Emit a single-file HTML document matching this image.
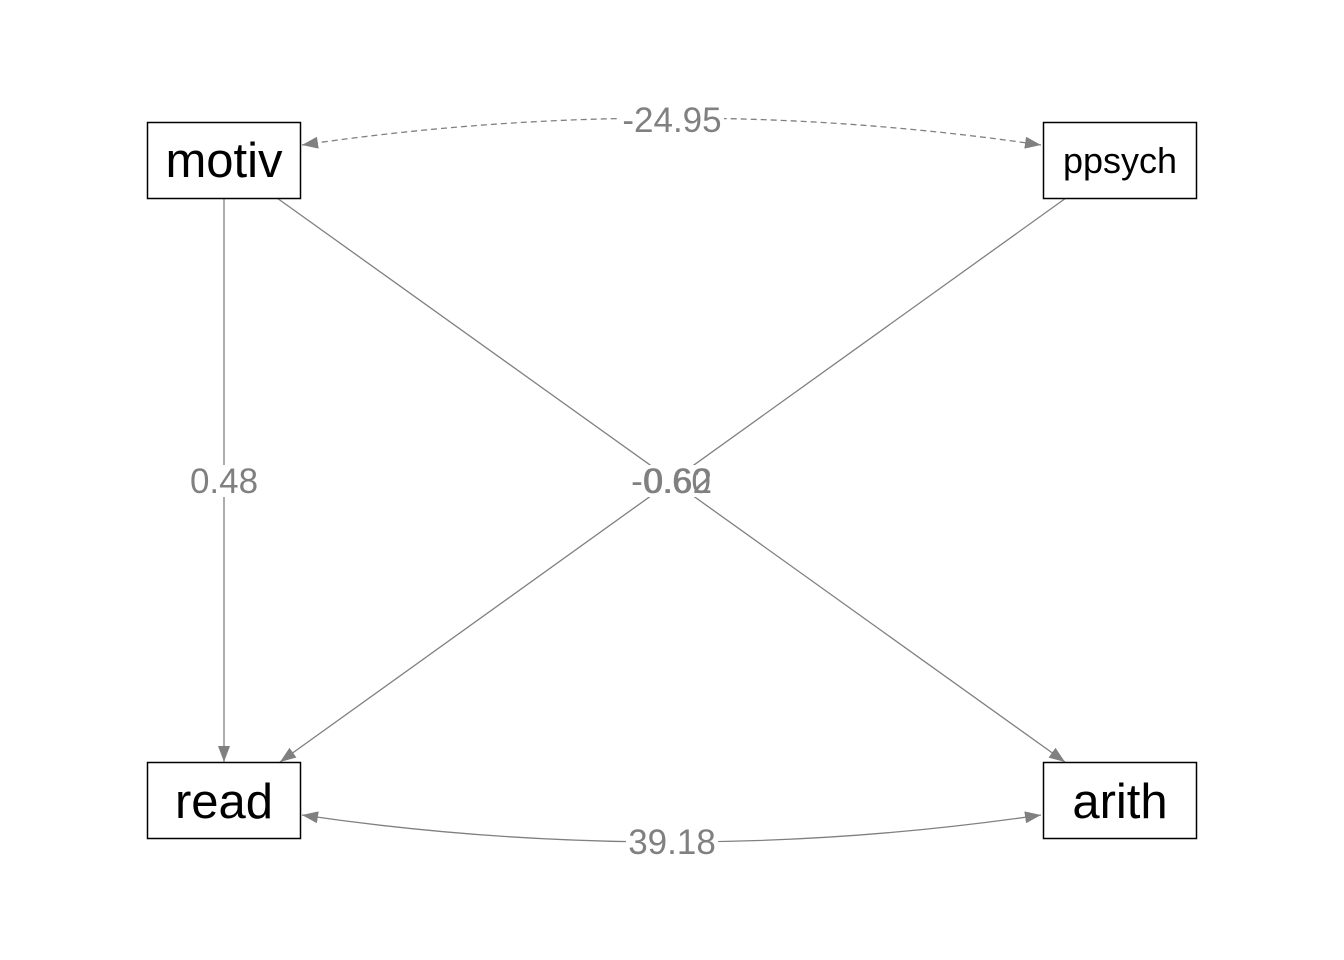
<!DOCTYPE html>
<html><head><meta charset="utf-8"><style>
html,body{margin:0;padding:0;background:#fff;}
svg{display:block;}
text{font-family:"Liberation Sans",sans-serif;}
</style></head><body>
<svg width="1344" height="960" viewBox="0 0 1344 960" xmlns="http://www.w3.org/2000/svg">
<defs>
<marker id="a" markerWidth="16" markerHeight="12" refX="16" refY="6" orient="auto" markerUnits="userSpaceOnUse">
<path d="M0,0 L16,6 L0,12 Z" fill="#808080"/>
</marker>
<marker id="b" markerWidth="16" markerHeight="12" refX="16" refY="6" orient="auto-start-reverse" markerUnits="userSpaceOnUse">
<path d="M0,0 L16,6 L0,12 Z" fill="#808080"/>
</marker>
</defs>
<g stroke="#808080" stroke-width="1.3" fill="none">
<line x1="224" y1="198" x2="224" y2="762" marker-end="url(#a)"/>
<line x1="277" y1="198" x2="1065" y2="762" marker-end="url(#a)"/>
<line x1="1066" y1="198" x2="280" y2="762" marker-end="url(#a)"/>
<path d="M302,145 Q672,91 1041,145" stroke-dasharray="6,4" marker-start="url(#b)" marker-end="url(#a)"/>
<path d="M302,815 Q672,869 1041,815" marker-start="url(#b)" marker-end="url(#a)"/>
</g>
<g fill="#fff">
<rect x="620" y="104" width="104" height="32"/>
<rect x="626" y="826" width="92" height="32"/>
<rect x="188" y="465" width="72" height="32"/>
<rect x="633" y="465" width="84" height="32"/>
</g>
<g fill="#808080" font-size="35" text-anchor="middle">
<text x="672" y="132">-24.95</text>
<text x="672" y="854">39.18</text>
<text x="224" y="493">0.48</text>
<text x="671" y="493">-0.60</text>
<text x="678" y="493">0.62</text>
</g>
<g fill="#fff" stroke="#000" stroke-width="1.5">
<rect x="147.5" y="122.5" width="153" height="76"/>
<rect x="1043.5" y="122.5" width="153" height="76"/>
<rect x="147.5" y="762.5" width="153" height="76"/>
<rect x="1043.5" y="762.5" width="153" height="76"/>
</g>
<g fill="#000" text-anchor="middle">
<text x="224" y="177" font-size="49">motiv</text>
<text x="1120" y="173" font-size="36">ppsych</text>
<text x="224" y="818" font-size="49">read</text>
<text x="1120" y="818" font-size="49">arith</text>
</g>
</svg>
</body></html>
